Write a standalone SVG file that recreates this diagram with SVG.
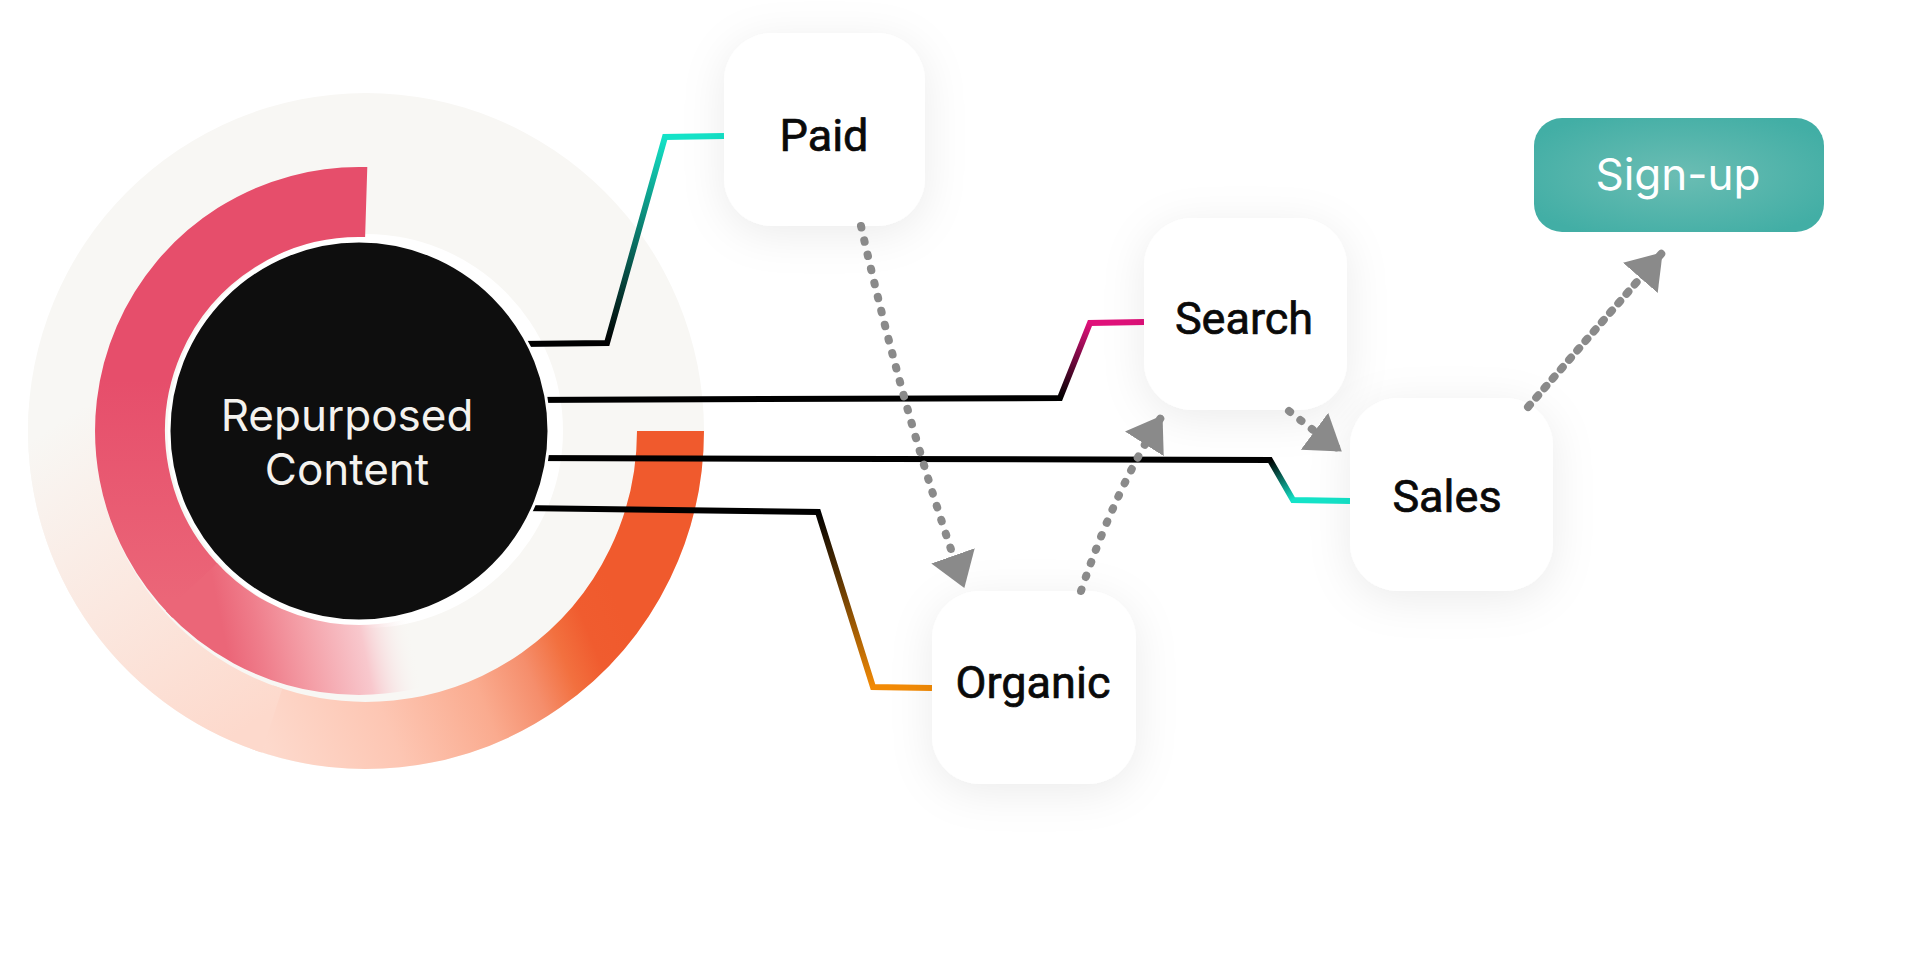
<svg xmlns="http://www.w3.org/2000/svg" width="1920" height="971" viewBox="0 0 1920 971">
<style>
.node{fill:#fff;filter:url(#sh)}
.lbl{font-family:Roboto,"Noto Sans",sans-serif;font-size:45px;font-weight:400;fill:#0a0a0a;stroke:#0a0a0a;stroke-width:0.7;text-anchor:middle}
.conn{fill:none;stroke-width:6;stroke-linejoin:miter}
.dot{fill:none;stroke:#8a8a8a;stroke-width:8;stroke-linecap:round;stroke-dasharray:1.5 13;marker-end:url(#ah)}
.ring{fill:none}
</style>
<defs>
<filter id="sh" x="-40%" y="-40%" width="180%" height="180%">
<feDropShadow dx="0" dy="8" stdDeviation="22" flood-color="#000" flood-opacity="0.08"/>
</filter>
<marker id="ah" viewBox="0 0 34 46" refX="33" refY="23" markerWidth="34" markerHeight="46" markerUnits="userSpaceOnUse" orient="auto">
<path d="M0,0 L34,23 L0,46 z" fill="#8a8a8a"/>
</marker>
<linearGradient id="gPink1" gradientUnits="userSpaceOnUse" x1="0" y1="380" x2="0" y2="600">
<stop offset="0" stop-color="#e64e6b"/>
<stop offset="1" stop-color="#eb6678"/>
</linearGradient>
<linearGradient id="gPink2" gradientUnits="userSpaceOnUse" x1="215" y1="592" x2="435" y2="547">
<stop offset="0" stop-color="#eb6678"/>
<stop offset="0.15" stop-color="#ef7d8b"/>
<stop offset="0.35" stop-color="#f4a0a8"/>
<stop offset="0.6" stop-color="#f8c8cd"/>
<stop offset="0.82" stop-color="#f8f7f4" stop-opacity="0"/>
</linearGradient>
<linearGradient id="gOrangeA" gradientUnits="userSpaceOnUse" x1="600" y1="560" x2="100" y2="760">
<stop offset="0" stop-color="#f05a2d"/>
<stop offset="0.07" stop-color="#f05c2f"/>
<stop offset="0.13" stop-color="#f2703f"/>
<stop offset="0.2" stop-color="#f58e6c"/>
<stop offset="0.3" stop-color="#faab8f"/>
<stop offset="0.48" stop-color="#fdc6b3"/>
<stop offset="0.7" stop-color="#fdd9cc"/>
<stop offset="1" stop-color="#fce3d9"/>
</linearGradient>
<linearGradient id="gOrangeB" gradientUnits="userSpaceOnUse" x1="262" y1="717" x2="62" y2="420">
<stop offset="0" stop-color="#fdd9cc"/>
<stop offset="0.5" stop-color="#fbe8e0"/>
<stop offset="1" stop-color="#f8f7f4"/>
</linearGradient>
<linearGradient id="gPaid" gradientUnits="userSpaceOnUse" x1="607" y1="343" x2="665" y2="137">
<stop offset="0" stop-color="#000"/>
<stop offset="1" stop-color="#14e3c8"/>
</linearGradient>
<linearGradient id="gSearch" gradientUnits="userSpaceOnUse" x1="1060" y1="398" x2="1090" y2="323">
<stop offset="0" stop-color="#000"/>
<stop offset="1" stop-color="#e0117a"/>
</linearGradient>
<linearGradient id="gSales" gradientUnits="userSpaceOnUse" x1="1270" y1="460" x2="1293" y2="500">
<stop offset="0" stop-color="#000"/>
<stop offset="1" stop-color="#14e3c8"/>
</linearGradient>
<linearGradient id="gOrganic" gradientUnits="userSpaceOnUse" x1="818" y1="512" x2="873" y2="687">
<stop offset="0" stop-color="#000"/>
<stop offset="1" stop-color="#f28a05"/>
</linearGradient>
<radialGradient id="gSign" cx="0.5" cy="0.5" r="0.6">
<stop offset="0" stop-color="#6bbdb3"/>
<stop offset="1" stop-color="#42aea5"/>
</radialGradient>
</defs>
<rect width="1920" height="971" fill="#fff"/>
<g id="rings">
<circle cx="366" cy="431" r="338" fill="#f8f7f4"/>
<path class="ring" d="M670.5,431 A304.5,304.5 0 0 1 261.9,717.1" stroke="url(#gOrangeA)" stroke-width="67"/>
<path class="ring" d="M271.9,720.6 A304.5,304.5 0 0 1 62.7,404.5" stroke="url(#gOrangeB)" stroke-width="67"/>
<circle cx="366" cy="431" r="197" fill="#fff"/>
<path class="ring" d="M366.2,202.1 A229,229 0 0 0 197.1,592.9" stroke="url(#gPink1)" stroke-width="70"/>
<path class="ring" d="M191.5,587.2 A229,229 0 0 0 473.5,629.3" stroke="url(#gPink2)" stroke-width="70"/>
</g>
<g id="connectors">
<path class="conn" d="M520,344 L607,343 L665,137 L724,136" stroke="url(#gPaid)"/>
<path class="conn" d="M520,400 L1060,398 L1090,323 L1144,322" stroke="url(#gSearch)"/>
<path class="conn" d="M520,458 L1270,460 L1293,500 L1350,501" stroke="url(#gSales)"/>
<path class="conn" d="M520,508 L818,512 L873,687 L932,688" stroke="url(#gOrganic)"/>
</g>
<g id="repurposed">
<circle cx="359" cy="431" r="190" fill="#0e0e0e" stroke="#fff" stroke-width="3"/>
<text x="347" y="431" font-family="Inter,'Noto Sans',sans-serif" font-size="44" fill="#f4f2ee" text-anchor="middle">Repurposed</text>
<text x="347" y="485" font-family="Inter,'Noto Sans',sans-serif" font-size="44" fill="#f4f2ee" text-anchor="middle">Content</text>
</g>
<g id="paid">
<rect class="node" x="724" y="33" width="201" height="193" rx="48"/>
<text class="lbl" x="824" y="151">Paid</text>
</g>
<g id="search">
<rect class="node" x="1144" y="218" width="203" height="192" rx="48"/>
<text class="lbl" x="1244" y="334">Search</text>
</g>
<g id="sales">
<rect class="node" x="1350" y="398" width="203" height="193" rx="48"/>
<text class="lbl" x="1447" y="512">Sales</text>
</g>
<g id="organic">
<rect class="node" x="932" y="591" width="204" height="193" rx="48"/>
<text class="lbl" x="1033" y="698">Organic</text>
</g>
<g id="signup">
<rect x="1534" y="118" width="290" height="114" rx="28" fill="url(#gSign)"/>
<text x="1678" y="190" font-family="Inter,'Noto Sans',sans-serif" font-size="44" fill="#fff" text-anchor="middle">Sign-up</text>
</g>
<g id="flows">
<path class="dot" d="M861,226 Q905,420 964,587"/>
<path class="dot" d="M1081,591 Q1115,490 1162,416"/>
<path class="dot" d="M1289,411 Q1310,428 1341,451"/>
<path class="dot" style="stroke-dasharray:3 9.5" d="M1528,407 L1662,253"/>
</g>
</svg>
